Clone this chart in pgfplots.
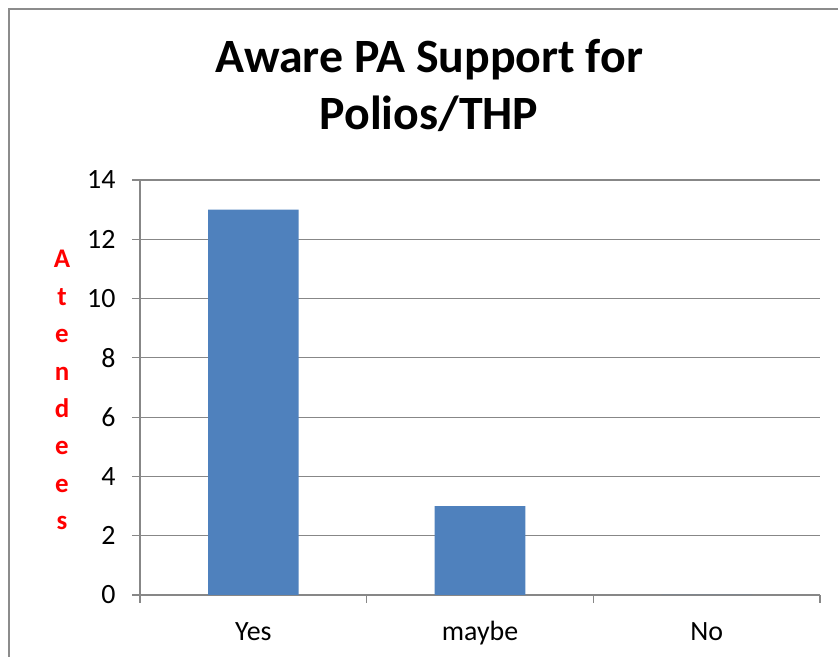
\documentclass[border=0pt]{standalone}
\usepackage{pgfplots}
\pgfplotsset{compat=1.18}
\usepackage{fontspec}
\setmainfont{Carlito}
\definecolor{barblue}{HTML}{4F81BD}
\definecolor{gridgray}{HTML}{878787}
\definecolor{framegray}{HTML}{8C8C8C}
\begin{document}
\begin{tikzpicture}[x=1bp,y=1bp]
\useasboundingbox (0,0) rectangle (838,657);
\draw[framegray, line width=1.8bp] (9,-2) -- (9,648) -- (840,648);
\begin{axis}[
  at={(140bp,62bp)}, anchor=south west,
  scale only axis, width=680bp, height=415bp,
  xmin=-0.5, xmax=2.5, ymin=0, ymax=14,
  xtick={-0.5,0.5,1.5,2.5},
  x tick label as interval,
  xticklabels={Yes,maybe,No},
  ytick={0,2,...,14},
  axis x line*=bottom, axis y line*=left,
  axis line style={gridgray, line width=1.2bp},
  ymajorgrids, grid style={gridgray, line width=1.2bp},
  tick align=outside, major tick length=8bp,
  tick style={gridgray, line width=1.2bp},
  tick label style={font=\fontsize{28}{34}\selectfont, black},
  /pgf/number format/assume math mode=true,
  xticklabel style={yshift=-15bp, text height=19bp, text depth=6bp},
  yticklabel style={xshift=-13bp},
]
\addplot[ybar, bar width=0.4, fill=barblue, draw=none, bar shift=0pt] coordinates {(0,13) (1,3) (2,0)};
\end{axis}
\node[anchor=base, font=\fontsize{48}{56}\selectfont\bfseries] at (429,584) {Aware PA Support for};
\node[anchor=base, font=\fontsize{48}{56}\selectfont\bfseries] at (429,527) {Polios/THP};
\foreach \l [count=\i from 0] in {A,t,e,n,d,e,e,s}
  \node[anchor=base, text=red, font=\fontsize{27}{30}\selectfont\bfseries] at (62,{657-268-37.4*\i}) {\l};
\end{tikzpicture}
\end{document}
